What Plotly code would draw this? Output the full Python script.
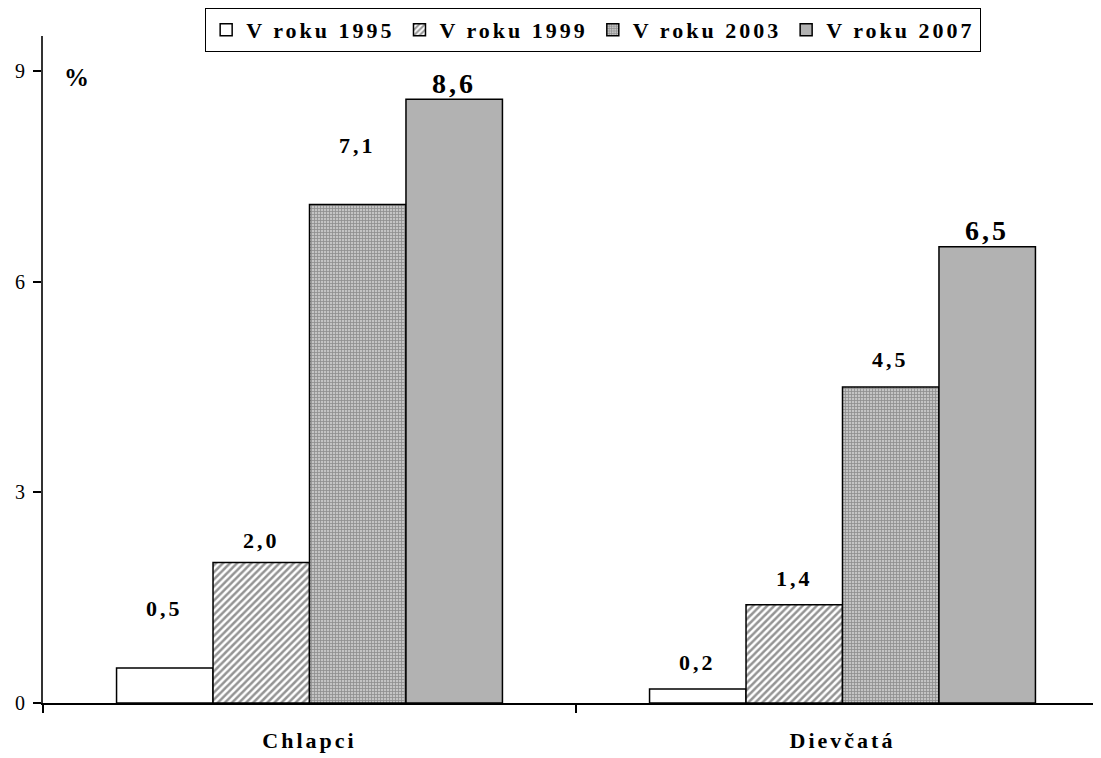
import plotly.graph_objects as go

categories = ["Chlapci", "Dievčatá"]
series_names = ["V roku 1995", "V roku 1999", "V roku 2003", "V roku 2007"]
values_1995 = [0.5, 0.2]
values_1999 = [2.0, 1.4]
values_2003 = [7.1, 4.5]
values_2007 = [8.6, 6.5]
y_ticks = [0, 3, 6, 9]

FONT = "Liberation Serif, Times New Roman, serif"
BARGAP = 0.276


def spaced(t, px):
    return f'<span style="letter-spacing:{px}px">{t}</span>'


# styling per series: fill, pattern, label font size, label gap (px) above bar top per category
styles = [
    dict(color="white", pattern=None, size=22, gap=[59, 26]),
    dict(color="white", pattern=dict(shape="/", fgcolor="#2a2a2a", bgcolor="white", size=5, solidity=0.5), size=22, gap=[22, 26]),
    dict(color="#a8a8a8", pattern=dict(shape="+", fgcolor="#555555", bgcolor="#c4c4c4", size=3, solidity=0.45), size=22, gap=[59, 28]),
    dict(color="#b2b2b2", pattern=None, size=28, gap=[16, 16]),
]

all_values = [values_1995, values_1999, values_2003, values_2007]

fig = go.Figure()
annotations = []
nser = len(series_names)
bw = (1 - BARGAP) / nser
for k, (name, vals, st) in enumerate(zip(series_names, all_values, styles)):
    marker = dict(color=st["color"], line=dict(color="black", width=1.5))
    if st["pattern"]:
        marker["pattern"] = st["pattern"]
    fig.add_trace(go.Bar(
        x=categories, y=vals, name=spaced(name, 3), marker=marker,
    ))
    for i, v in enumerate(vals):
        annotations.append(dict(
            x=i + (k - (nser - 1) / 2) * bw, y=v, xref="x", yref="y",
            text=spaced(f"{v:.1f}".replace(".", ","), 3),
            showarrow=False, xanchor="center", yanchor="middle", yshift=st["gap"][i],
            font=dict(family=FONT, size=st["size"], color="black", weight="bold"),
        ))

annotations.append(dict(
    text="%", xref="paper", yref="paper",
    x=(76 - 43) / 1058, y=(703 - 78) / 667, xanchor="center", yanchor="middle",
    showarrow=False, font=dict(family=FONT, size=25, color="black", weight="bold"),
))

# The page body adds an 8px offset; figure is sized to the visible remainder.
fig.update_layout(
    width=1093, height=750,
    margin=dict(l=35, r=0, t=28, b=55, autoexpand=False),
    paper_bgcolor="white", plot_bgcolor="white",
    barmode="group", bargap=BARGAP, bargroupgap=0,
    font=dict(family=FONT, color="black"),
    legend=dict(
        orientation="h", x=0.52, xanchor="center", y=1.042, yanchor="top",
        bordercolor="black", borderwidth=1, bgcolor="white",
        font=dict(family=FONT, size=22, color="black", weight="bold"),
        itemwidth=30, tracegroupgap=0,
    ),
    showlegend=True,
    xaxis=dict(
        range=[-0.5, 1.485], showline=True, linecolor="black", linewidth=1.5,
        ticks="outside", tickson="boundaries", ticklen=8, tickcolor="black", tickwidth=1.5,
        tickvals=categories, ticktext=[spaced(c, 3) for c in categories],
        tickfont=dict(family=FONT, size=22, color="black", weight="bold"),
        ticklabelstandoff=17, showgrid=False, zeroline=False, automargin=False,
    ),
    yaxis=dict(
        range=[0, 9.5], tickvals=y_ticks, showline=True, linecolor="#333", linewidth=2,
        ticks="outside", ticklen=8, tickcolor="black", tickwidth=1.5,
        tickfont=dict(family=FONT, size=20, color="black"),
        showgrid=False, zeroline=False, ticklabelstandoff=4, automargin=False,
    ),
    annotations=annotations,
)

fig.write_html("out.html")
